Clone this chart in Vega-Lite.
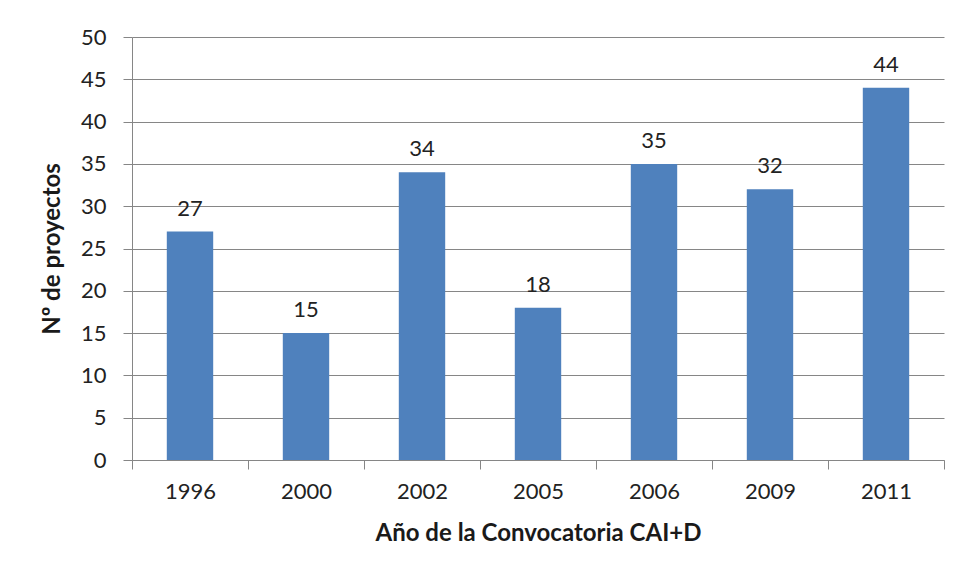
{
  "$schema": "https://vega.github.io/schema/vega-lite/v6.json",
  "width": 812,
  "height": 423,
  "autosize": {"type": "none"},
  "padding": {"left": 132, "top": 37, "right": 18, "bottom": 120},
  "background": "white",
  "data": {
    "values": [
      {"year": "1996", "n": 27},
      {"year": "2000", "n": 15},
      {"year": "2002", "n": 34},
      {"year": "2005", "n": 18},
      {"year": "2006", "n": 35},
      {"year": "2009", "n": 32},
      {"year": "2011", "n": 44}
    ]
  },
  "encoding": {
    "x": {
      "field": "year", "type": "nominal", "sort": null,
      "scale": {"paddingInner": 0.6, "paddingOuter": 0.3},
      "axis": {
        "title": "Año de la Convocatoria CAI+D",
        "titleFont": "Lato", "titleFontSize": 24, "titleFontWeight": "bold", "titleColor": "#1a1a1a",
        "titlePadding": 19,
        "labelFont": "Lato", "labelFontSize": 22, "labelColor": "#222", "labelAngle": 0, "labelPadding": 12,
        "labelOffset": 34.8,
        "bandPosition": 2.5, "tickOffset": -34.8, "tickExtra": true,
        "tickSize": 9, "tickColor": "#868686", "domainColor": "#868686", "grid": false
      }
    },
    "y": {
      "field": "n", "type": "quantitative",
      "scale": {"domain": [0, 50], "nice": false},
      "axis": {
        "title": "Nº de proyectos",
        "titleFont": "Lato", "titleFontSize": 24, "titleFontWeight": "bold", "titleColor": "#1a1a1a",
        "titlePadding": 16,
        "values": [0, 5, 10, 15, 20, 25, 30, 35, 40, 45, 50],
        "labelFont": "Lato", "labelFontSize": 22, "labelColor": "#222", "labelPadding": 17,
        "tickSize": 9, "tickColor": "#868686", "domainColor": "#868686",
        "grid": true, "gridColor": "#868686", "gridWidth": 1
      }
    }
  },
  "layer": [
    {"mark": {"type": "bar", "color": "#4F81BD"}},
    {
      "mark": {"type": "text", "font": "Lato", "fontSize": 22, "color": "#222", "baseline": "alphabetic", "dy": -16},
      "encoding": {"text": {"field": "n", "type": "quantitative"}}
    }
  ],
  "config": {"view": {"stroke": null}}
}
